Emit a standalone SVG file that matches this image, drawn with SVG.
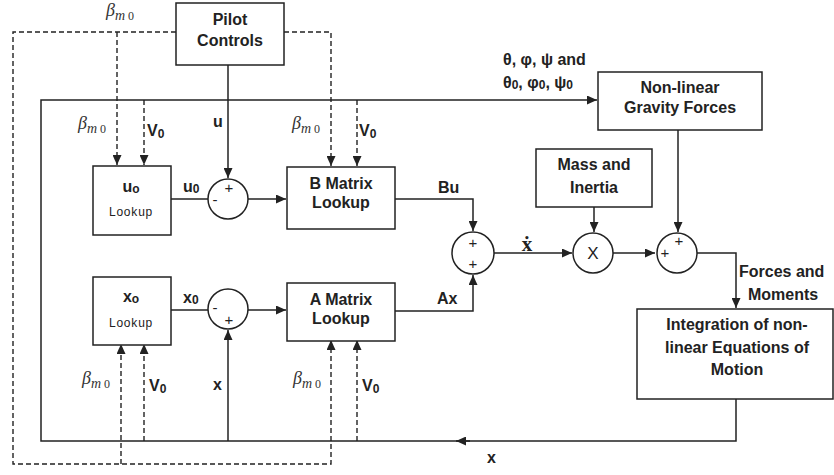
<svg xmlns="http://www.w3.org/2000/svg" width="834" height="475" viewBox="0 0 834 475">
<defs>
<style>
.box{fill:#fff;stroke:#222;stroke-width:1.5}
.ln{fill:none;stroke:#222;stroke-width:1.5}
.dl{fill:none;stroke:#222;stroke-width:1.4;stroke-dasharray:5,3}
.t{font-family:"Liberation Sans",Arial,sans-serif;font-size:16px;font-weight:bold;fill:#222}
.tc{text-anchor:middle}
.sm{font-family:"Liberation Sans",Arial,sans-serif;font-size:12px;letter-spacing:0.8px;fill:#222}
.sg{font-family:"Liberation Sans",Arial,sans-serif;font-size:15px;fill:#222;text-anchor:middle}
.b{font-family:"Liberation Serif","DejaVu Serif",serif;font-style:italic;font-size:18px;fill:#333}
</style>
<marker id="ar" markerUnits="userSpaceOnUse" markerWidth="10" markerHeight="9" refX="10" refY="4.5" orient="auto">
<path d="M0,0 L10,4.5 L0,9 z" fill="#222"/>
</marker>
</defs>

<g id="connectors">
<path class="dl" d="M176,32 H13 V464 H331 V340" marker-end="url(#ar)"/>
<path class="dl" d="M121,464 V344" marker-end="url(#ar)"/>
<path class="dl" d="M284,32 H331 V166" marker-end="url(#ar)"/>
<path class="dl" d="M117,32 V165" marker-end="url(#ar)"/>
<path class="dl" d="M144,100 V165" marker-end="url(#ar)"/>
<path class="dl" d="M357,100 V166" marker-end="url(#ar)"/>
<path class="dl" d="M144,441 V344" marker-end="url(#ar)"/>
<path class="dl" d="M357,441 V340" marker-end="url(#ar)"/>
<path class="ln" d="M228,65 V178" marker-end="url(#ar)"/>
<path class="ln" d="M171,199 H208"/>
<path class="ln" d="M248,199 H286" marker-end="url(#ar)"/>
<path class="ln" d="M171,310 H208"/>
<path class="ln" d="M248,310 H286" marker-end="url(#ar)"/>
<path class="ln" d="M228,441 V330" marker-end="url(#ar)"/>
<path class="ln" d="M395,199 H473 V231" marker-end="url(#ar)"/>
<path class="ln" d="M395,311 H473 V275" marker-end="url(#ar)"/>
<path class="ln" d="M494,253 H572" marker-end="url(#ar)"/>
<path class="ln" d="M594,207 V232" marker-end="url(#ar)"/>
<path class="ln" d="M613,253 H655" marker-end="url(#ar)"/>
<path class="ln" d="M678,130 V232" marker-end="url(#ar)"/>
<path class="ln" d="M697,253 H736 V308" marker-end="url(#ar)"/>
<path class="ln" d="M736,399 V441 H41 V100 H597" marker-end="url(#ar)"/>
<path class="ln" d="M470,441 H456" marker-end="url(#ar)"/>
</g>

<g id="labels">
<text class="b" x="106" y="16">β<tspan font-size="14" dy="4">m</tspan><tspan font-style="normal" font-size="12"> 0</tspan></text>
<text class="b" x="78" y="129">β<tspan font-size="14" dy="4">m</tspan><tspan font-style="normal" font-size="12"> 0</tspan></text>
<text class="b" x="292" y="129">β<tspan font-size="14" dy="4">m</tspan><tspan font-style="normal" font-size="12"> 0</tspan></text>
<text class="b" x="82" y="384">β<tspan font-size="14" dy="4">m</tspan><tspan font-style="normal" font-size="12"> 0</tspan></text>
<text class="b" x="293" y="384">β<tspan font-size="14" dy="4">m</tspan><tspan font-style="normal" font-size="12"> 0</tspan></text>
<text class="t" x="147" y="136">V<tspan font-size="12" dy="2">0</tspan></text>
<text class="t" x="359" y="136">V<tspan font-size="12" dy="2">0</tspan></text>
<text class="t" x="149" y="391">V<tspan font-size="12" dy="2">0</tspan></text>
<text class="t" x="362" y="391">V<tspan font-size="12" dy="2">0</tspan></text>
<text class="t" x="213" y="127">u</text>
<text class="t" x="183" y="192">u<tspan font-size="12" dy="1">0</tspan></text>
<text class="t" x="183" y="303">x<tspan font-size="12" dy="1">0</tspan></text>
<text class="t" x="213" y="390">x</text>
<text class="t" x="438" y="193">Bu</text>
<text class="t" x="437" y="304">Ax</text>
<text x="527" y="251" font-family="Liberation Serif,DejaVu Serif,serif" font-weight="bold" font-size="21" fill="#222" text-anchor="middle">ẋ</text>
<text class="t" x="503" y="65">θ, φ, ψ and</text>
<text class="t" x="503" y="88">θ<tspan font-size="12" dy="1">0</tspan><tspan dy="-1">, φ</tspan><tspan font-size="12" dy="1">0</tspan><tspan dy="-1">, ψ</tspan><tspan font-size="12" dy="1">0</tspan></text>
<text class="t" x="739" y="277">Forces and</text>
<text class="t" x="748" y="300">Moments</text>
<text class="t" x="487" y="463">x</text>
</g>

<g id="pilot">
<rect class="box" x="176" y="3" width="108" height="62"/>
<text class="t tc" x="230" y="25">Pilot</text>
<text class="t tc" x="230" y="46">Controls</text>
</g>

<g id="u0lookup">
<rect class="box" x="93" y="166" width="78" height="69"/>
<text class="t tc" x="131" y="192">u<tspan font-size="12" dy="1">o</tspan></text>
<text class="sm tc" x="131" y="216">Lookup</text>
</g>

<g id="x0lookup">
<rect class="box" x="93" y="277" width="78" height="68"/>
<text class="t tc" x="131" y="302">x<tspan font-size="12" dy="1">o</tspan></text>
<text class="sm tc" x="131" y="327">Lookup</text>
</g>

<g id="sumU">
<circle class="box" cx="228" cy="199" r="20"/>
<text class="sg" x="229" y="193">+</text>
<text class="sg" x="215" y="205">-</text>
</g>

<g id="sumX">
<circle class="box" cx="228" cy="309" r="20"/>
<text class="sg" x="215" y="313">-</text>
<text class="sg" x="229" y="325">+</text>
</g>

<g id="bmatrix">
<rect class="box" x="287" y="167" width="108" height="62"/>
<text class="t tc" x="341" y="189">B Matrix</text>
<text class="t tc" x="341" y="208">Lookup</text>
</g>

<g id="amatrix">
<rect class="box" x="287" y="283" width="108" height="58"/>
<text class="t tc" x="341" y="305">A Matrix</text>
<text class="t tc" x="341" y="324">Lookup</text>
</g>

<g id="sumBA">
<circle class="box" cx="473" cy="253" r="21"/>
<text class="sg" x="473" y="248">+</text>
<text class="sg" x="473" y="269">+</text>
</g>

<g id="mass">
<rect class="box" x="536" y="149" width="116" height="58"/>
<text class="t tc" x="594" y="170">Mass and</text>
<text class="t tc" x="594" y="193">Inertia</text>
</g>

<g id="mult">
<circle class="box" cx="593" cy="253" r="20"/>
<text x="593" y="259" font-family="Liberation Sans,Arial,sans-serif" font-size="17" fill="#222" text-anchor="middle">X</text>
</g>

<g id="gravity">
<rect class="box" x="598" y="72" width="164" height="58"/>
<text class="t tc" x="680" y="93">Non-linear</text>
<text class="t tc" x="680" y="113">Gravity Forces</text>
</g>

<g id="sumF">
<circle class="box" cx="677" cy="253" r="20"/>
<text class="sg" x="665" y="258">+</text>
<text class="sg" x="679" y="246">+</text>
</g>

<g id="integration">
<rect class="box" x="637" y="309" width="196" height="90"/>
<text class="t tc" x="737" y="330">Integration of non-</text>
<text class="t tc" x="737" y="353">linear Equations of</text>
<text class="t tc" x="737" y="375">Motion</text>
</g>
</svg>
